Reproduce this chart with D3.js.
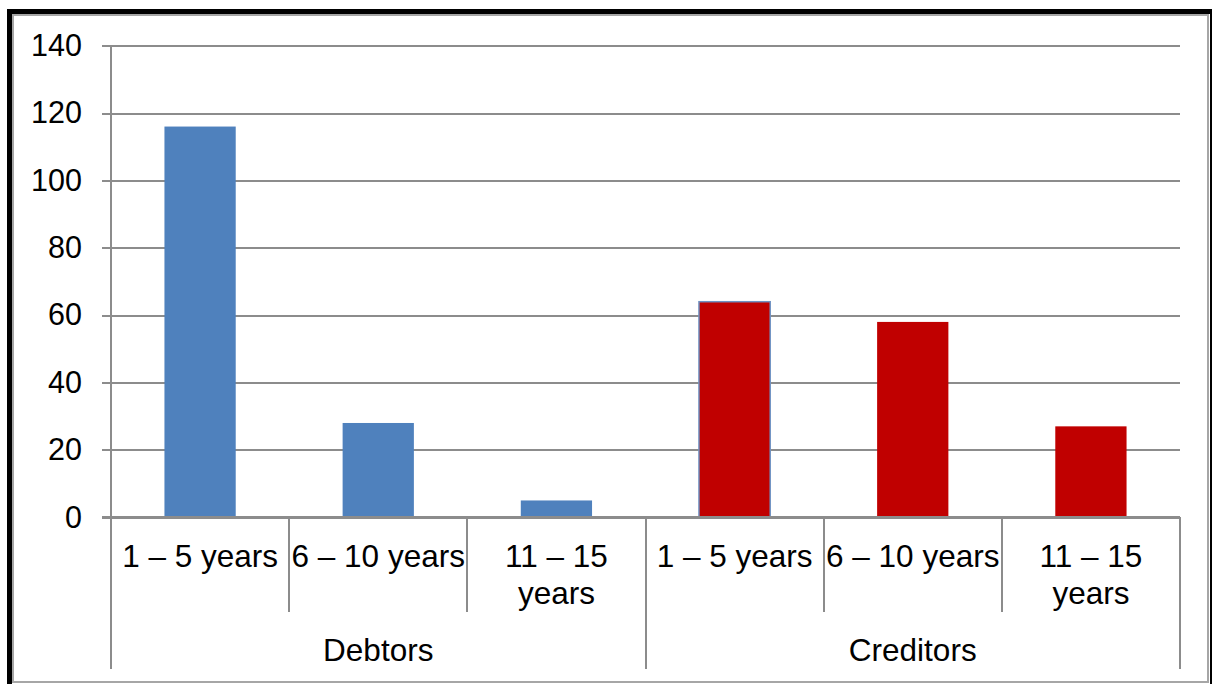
<!DOCTYPE html>
<html>
<head>
<meta charset="utf-8">
<script src="https://cdn.jsdelivr.net/npm/d3@7/dist/d3.min.js"></script>
<style>
  html, body { margin: 0; padding: 0; background: #ffffff; }
  svg { display: block; }
  text { font-family: "Liberation Sans", Arial, sans-serif; fill: #000; }
</style>
</head>
<body>
<svg id="chart" width="1215" height="684"></svg>
<script>
// Period bands (inner axis level) and the two groups they belong to (outer level)
const groups = ["Debtors", "Creditors"];
const periods = ["1 – 5 years", "6 – 10 years", "11 – 15 years"];
const debtorValues = [116, 28, 5];
const creditorValues = [64, 58, 27];
const yTicks = [0, 20, 40, 60, 80, 100, 120, 140];

const groupColors = { "Debtors": "#4f81bd", "Creditors": "#c00000" };

// Flatten into one row per bar
const rows = [];
groups.forEach((g, gi) => {
  const vals = gi === 0 ? debtorValues : creditorValues;
  periods.forEach((p, pi) => {
    rows.push({ key: g + "|" + p, group: g, period: p, value: vals[pi], gi, pi });
  });
});

const svg = d3.select("#chart");

// Frame: heavy black edge on top/left, thin gray inner border
svg.append("rect").attr("x", 7).attr("y", 9).attr("width", 1205).attr("height", 700).attr("fill", "#000");
svg.append("rect").attr("x", 12).attr("y", 14).attr("width", 1198).attr("height", 700).attr("fill", "#fff");
svg.append("rect").attr("x", 13).attr("y", 15).attr("width", 1195).attr("height", 667)
  .attr("fill", "#fff").attr("stroke", "#a6a6a6").attr("stroke-width", 2);

const plotLeft = 111, plotRight = 1180, plotTop = 45.7, plotBottom = 517.3;

const y = d3.scaleLinear().domain([0, 140]).range([plotBottom, plotTop]);
const x = d3.scaleBand().domain(rows.map(d => d.key)).range([plotLeft, plotRight]).paddingInner(0).paddingOuter(0);

const gridColor = "#8c8c8c";
const catFont = 31.5;

// Horizontal gridlines with the y axis tick labels
const yAxis = d3.axisLeft(y).tickValues(yTicks).tickSize(plotRight - plotLeft + 9).tickPadding(20).tickFormat(d3.format("d"));
const yg = svg.append("g").attr("transform", `translate(${plotRight},0)`).call(yAxis);
yg.select(".domain").remove();
yg.selectAll(".tick line").attr("stroke", gridColor).attr("stroke-width", 2).attr("shape-rendering", "crispEdges");
yg.selectAll(".tick text").attr("font-size", 30.5).attr("font-family", "Liberation Sans, Arial, sans-serif").attr("fill", "#000");

// Vertical y axis line
svg.append("line").attr("x1", plotLeft).attr("x2", plotLeft).attr("y1", plotTop).attr("y2", plotBottom)
  .attr("stroke", gridColor).attr("stroke-width", 2).attr("shape-rendering", "crispEdges");

// Bars
const barFrac = 0.4;
svg.append("g").selectAll("rect").data(rows).join("rect")
  .attr("x", d => x(d.key) + x.bandwidth() * (1 - barFrac) / 2)
  .attr("width", x.bandwidth() * barFrac)
  .attr("y", d => y(d.value))
  .attr("height", d => y(0) - y(d.value))
  .attr("fill", d => groupColors[d.group])
  .attr("stroke", d => (d.gi === 1 && d.pi === 0) ? "#6f93c4" : "none")
  .attr("stroke-width", 1.5);

// Horizontal category axis line (drawn over bar bottoms)
svg.append("line").attr("x1", plotLeft - 9).attr("x2", plotRight).attr("y1", plotBottom).attr("y2", plotBottom)
  .attr("stroke", gridColor).attr("stroke-width", 2).attr("shape-rendering", "crispEdges");

// Category separators: short ones between periods, long ones at group edges
const innerBottom = 612, outerBottom = 669;
const edges = rows.map(d => x(d.key)).concat([plotRight]);
svg.append("g").selectAll("line").data(edges).join("line")
  .attr("x1", d => d).attr("x2", d => d)
  .attr("y1", plotBottom)
  .attr("y2", (d, i) => (i % periods.length === 0) ? outerBottom : innerBottom)
  .attr("stroke", gridColor).attr("stroke-width", 2).attr("shape-rendering", "crispEdges");

// Period labels (wrapped when they do not fit the band)
const labelG = svg.append("g");
rows.forEach(d => {
  const cx = x(d.key) + x.bandwidth() / 2;
  const t = labelG.append("text").attr("x", cx).attr("text-anchor", "middle").attr("font-size", catFont);
  if (d.period.startsWith("11")) {
    const parts = ["11 – 15", "years"];
    parts.forEach((p, i) => t.append("tspan").attr("x", cx).attr("y", 567 + i * 37).text(p));
  } else {
    t.attr("y", 567).text(d.period);
  }
});

// Group labels
groups.forEach((g) => {
  const first = x(g + "|" + periods[0]);
  const last = x(g + "|" + periods[periods.length - 1]) + x.bandwidth();
  svg.append("text").attr("x", (first + last) / 2).attr("y", 661)
    .attr("text-anchor", "middle").attr("font-size", catFont).text(g);
});
</script>
</body>
</html>
